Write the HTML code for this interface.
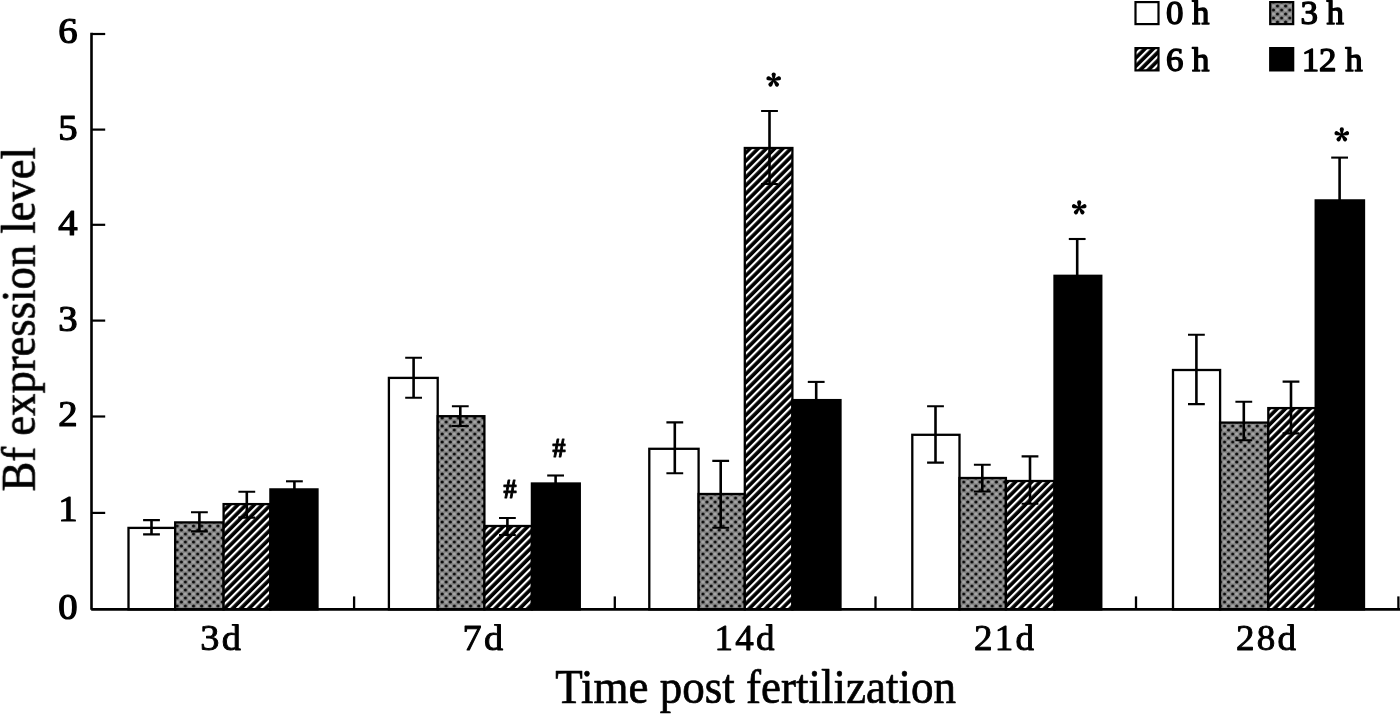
<!DOCTYPE html>
<html><head><meta charset="utf-8"><title>Bf expression level</title>
<style>html,body{margin:0;padding:0;background:#fff;}body{width:1400px;height:714px;overflow:hidden;}svg{display:block;}text{font-family:"Liberation Serif",serif;fill:#000;}</style>
</head><body>
<svg width="1400" height="714" viewBox="0 0 1400 714">
<defs>
<pattern id="hatch" width="5.8" height="5.8" patternUnits="userSpaceOnUse" patternTransform="translate(0 -1.2) rotate(-45)"><rect width="5.8" height="5.8" fill="#000"/><rect x="0" y="0" width="5.8" height="2.15" fill="#fff"/></pattern>
<pattern id="dots" width="8.15" height="8" patternUnits="userSpaceOnUse"><rect width="8.15" height="8" fill="#848484"/><ellipse cx="6.11" cy="2" rx="1.7" ry="1.6" fill="#a4a4a4"/><ellipse cx="2.04" cy="6" rx="1.7" ry="1.6" fill="#a4a4a4"/><ellipse cx="2.04" cy="2" rx="1.6" ry="1.5" fill="#0c0c0c"/><ellipse cx="6.11" cy="6" rx="1.6" ry="1.5" fill="#0c0c0c"/></pattern>
<filter id="soft" x="-2%" y="-2%" width="104%" height="104%"><feGaussianBlur stdDeviation="0.55"/></filter>
</defs>
<rect width="1400" height="714" fill="#fff"/>
<g filter="url(#soft)">
<g stroke="#000" stroke-width="2.3" stroke-linejoin="miter">
<rect x="128.5" y="527.9" width="46.7" height="81.5" fill="#fff"/>
<rect x="175.2" y="522.4" width="48.4" height="87.0" fill="url(#dots)"/>
<rect x="223.6" y="504.1" width="46.8" height="105.3" fill="url(#hatch)"/>
<rect x="270.4" y="489.4" width="47.1" height="120.0" fill="#000"/>
<rect x="388.9" y="377.9" width="48.8" height="231.5" fill="#fff"/>
<rect x="437.7" y="416.2" width="46.7" height="193.2" fill="url(#dots)"/>
<rect x="484.4" y="526.0" width="47.5" height="83.4" fill="url(#hatch)"/>
<rect x="531.9" y="483.5" width="47.9" height="125.9" fill="#000"/>
<rect x="649.3" y="448.8" width="49.3" height="160.6" fill="#fff"/>
<rect x="698.6" y="494.0" width="46.2" height="115.4" fill="url(#dots)"/>
<rect x="744.8" y="148.0" width="47.6" height="461.4" fill="url(#hatch)"/>
<rect x="792.4" y="400.1" width="48.1" height="209.3" fill="#000"/>
<rect x="912.3" y="434.8" width="47.2" height="174.6" fill="#fff"/>
<rect x="959.5" y="478.0" width="46.4" height="131.4" fill="url(#dots)"/>
<rect x="1005.9" y="481.0" width="48.6" height="128.4" fill="url(#hatch)"/>
<rect x="1054.5" y="275.8" width="46.8" height="333.6" fill="#000"/>
<rect x="1173.0" y="370.0" width="47.1" height="239.4" fill="#fff"/>
<rect x="1220.1" y="422.6" width="48.2" height="186.8" fill="url(#dots)"/>
<rect x="1268.3" y="408.1" width="47.4" height="201.3" fill="url(#hatch)"/>
<rect x="1315.7" y="200.4" width="48.3" height="409.0" fill="#000"/>
</g>
<path d="M151.5 520.1V534.4" stroke="#000" stroke-width="2.6" fill="none"/>
<path d="M143.1 520.1H159.9M143.1 534.4H159.9" stroke="#000" stroke-width="2.1" fill="none"/>
<path d="M199.4 512.2V531.4" stroke="#000" stroke-width="2.6" fill="none"/>
<path d="M191.0 512.2H207.8M191.0 531.4H207.8" stroke="#000" stroke-width="2.1" fill="none"/>
<path d="M246.8 491.8V517.6" stroke="#000" stroke-width="2.6" fill="none"/>
<path d="M238.4 491.8H255.2M238.4 517.6H255.2" stroke="#000" stroke-width="2.1" fill="none"/>
<path d="M294.4 481.3V489.4" stroke="#000" stroke-width="2.6" fill="none"/>
<path d="M286.0 481.3H302.8" stroke="#000" stroke-width="2.1" fill="none"/>
<path d="M413.6 357.7V397.8" stroke="#000" stroke-width="2.6" fill="none"/>
<path d="M405.2 357.7H422.0M405.2 397.8H422.0" stroke="#000" stroke-width="2.1" fill="none"/>
<path d="M460.3 406.2V426.0" stroke="#000" stroke-width="2.6" fill="none"/>
<path d="M451.9 406.2H468.7M451.9 426.0H468.7" stroke="#000" stroke-width="2.1" fill="none"/>
<path d="M507.4 518.0V535.0" stroke="#000" stroke-width="2.6" fill="none"/>
<path d="M499.0 518.0H515.8M499.0 535.0H515.8" stroke="#000" stroke-width="2.1" fill="none"/>
<path d="M555.6 475.5V483.5" stroke="#000" stroke-width="2.6" fill="none"/>
<path d="M547.2 475.5H564.0" stroke="#000" stroke-width="2.1" fill="none"/>
<path d="M674.8 422.4V473.2" stroke="#000" stroke-width="2.6" fill="none"/>
<path d="M666.4 422.4H683.2M666.4 473.2H683.2" stroke="#000" stroke-width="2.1" fill="none"/>
<path d="M720.7 460.9V527.8" stroke="#000" stroke-width="2.6" fill="none"/>
<path d="M712.3 460.9H729.1M712.3 527.8H729.1" stroke="#000" stroke-width="2.1" fill="none"/>
<path d="M769.5 111.0V184.0" stroke="#000" stroke-width="2.6" fill="none"/>
<path d="M761.1 111.0H777.9M761.1 184.0H777.9" stroke="#000" stroke-width="2.1" fill="none"/>
<path d="M816.2 381.9V400.1" stroke="#000" stroke-width="2.6" fill="none"/>
<path d="M807.8 381.9H824.6" stroke="#000" stroke-width="2.1" fill="none"/>
<path d="M935.5 406.2V462.6" stroke="#000" stroke-width="2.6" fill="none"/>
<path d="M927.1 406.2H943.9M927.1 462.6H943.9" stroke="#000" stroke-width="2.1" fill="none"/>
<path d="M982.3 464.7V491.5" stroke="#000" stroke-width="2.6" fill="none"/>
<path d="M973.9 464.7H990.7M973.9 491.5H990.7" stroke="#000" stroke-width="2.1" fill="none"/>
<path d="M1030.0 456.4V503.8" stroke="#000" stroke-width="2.6" fill="none"/>
<path d="M1021.6 456.4H1038.4M1021.6 503.8H1038.4" stroke="#000" stroke-width="2.1" fill="none"/>
<path d="M1077.2 239.0V275.8" stroke="#000" stroke-width="2.6" fill="none"/>
<path d="M1068.8 239.0H1085.6" stroke="#000" stroke-width="2.1" fill="none"/>
<path d="M1196.4 334.8V404.1" stroke="#000" stroke-width="2.6" fill="none"/>
<path d="M1188.0 334.8H1204.8M1188.0 404.1H1204.8" stroke="#000" stroke-width="2.1" fill="none"/>
<path d="M1243.8 401.7V440.2" stroke="#000" stroke-width="2.6" fill="none"/>
<path d="M1235.4 401.7H1252.2M1235.4 440.2H1252.2" stroke="#000" stroke-width="2.1" fill="none"/>
<path d="M1291.0 381.6V433.4" stroke="#000" stroke-width="2.6" fill="none"/>
<path d="M1282.6 381.6H1299.4M1282.6 433.4H1299.4" stroke="#000" stroke-width="2.1" fill="none"/>
<path d="M1339.6 157.6V200.4" stroke="#000" stroke-width="2.6" fill="none"/>
<path d="M1331.2 157.6H1348.0" stroke="#000" stroke-width="2.1" fill="none"/>
<g stroke="#000" fill="none">
<path d="M91.5 32.8V609.7" stroke-width="2.6"/>
<path d="M91.2 609.4H1400" stroke-width="2.6"/>
<path d="M91.5 512.9H105.2" stroke-width="2.2"/>
<path d="M91.5 416.5H105.2" stroke-width="2.2"/>
<path d="M91.5 320.6H105.2" stroke-width="2.2"/>
<path d="M91.5 224.8H105.2" stroke-width="2.2"/>
<path d="M91.5 129.6H105.2" stroke-width="2.2"/>
<path d="M91.5 34.0H105.2" stroke-width="2.2"/>
<path d="M354.1 596.4V609.4" stroke-width="2.3"/>
<path d="M614.8 596.4V609.4" stroke-width="2.3"/>
<path d="M875.5 596.4V609.4" stroke-width="2.3"/>
<path d="M1136.0 596.4V609.4" stroke-width="2.3"/>
<path d="M1398.4 596.4V609.4" stroke-width="2.3"/>
</g>
<text transform="translate(77.60 618.60) scale(1.090 1)" font-size="35.5" text-anchor="end" stroke="#000" stroke-width="1.20" stroke-linejoin="round">0</text>
<text transform="translate(77.60 521.20) scale(1.090 1)" font-size="35.5" text-anchor="end" stroke="#000" stroke-width="1.20" stroke-linejoin="round">1</text>
<text transform="translate(77.60 425.80) scale(1.090 1)" font-size="35.5" text-anchor="end" stroke="#000" stroke-width="1.20" stroke-linejoin="round">2</text>
<text transform="translate(77.60 330.70) scale(1.090 1)" font-size="35.5" text-anchor="end" stroke="#000" stroke-width="1.20" stroke-linejoin="round">3</text>
<text transform="translate(77.60 234.60) scale(1.090 1)" font-size="35.5" text-anchor="end" stroke="#000" stroke-width="1.20" stroke-linejoin="round">4</text>
<text transform="translate(77.60 139.70) scale(1.090 1)" font-size="35.5" text-anchor="end" stroke="#000" stroke-width="1.20" stroke-linejoin="round">5</text>
<text transform="translate(77.60 43.20) scale(1.090 1)" font-size="35.5" text-anchor="end" stroke="#000" stroke-width="1.20" stroke-linejoin="round">6</text>
<text transform="translate(221.80 649.60) scale(1.070 1)" font-size="35.8" text-anchor="middle" stroke="#000" stroke-width="0.90" stroke-linejoin="round" letter-spacing="2.20">3d</text>
<text transform="translate(484.10 649.60) scale(1.070 1)" font-size="35.8" text-anchor="middle" stroke="#000" stroke-width="0.90" stroke-linejoin="round" letter-spacing="2.20">7d</text>
<text transform="translate(745.70 649.60) scale(1.035 1)" font-size="35.8" text-anchor="middle" stroke="#000" stroke-width="0.90" stroke-linejoin="round" letter-spacing="2.20">14d</text>
<text transform="translate(1005.10 649.60) scale(1.035 1)" font-size="35.8" text-anchor="middle" stroke="#000" stroke-width="0.90" stroke-linejoin="round" letter-spacing="2.20">21d</text>
<text transform="translate(1267.10 649.60) scale(1.035 1)" font-size="35.8" text-anchor="middle" stroke="#000" stroke-width="0.90" stroke-linejoin="round" letter-spacing="2.20">28d</text>
<text transform="translate(755.60 702.60) scale(0.938 1)" font-size="48" text-anchor="middle" stroke="#000" stroke-width="0.70" stroke-linejoin="round">Time post fertilization</text>
<text transform="translate(34.80 319.20) rotate(-90) scale(0.939 1)" font-size="47.5" text-anchor="middle" stroke="#000" stroke-width="0.70" stroke-linejoin="round">Bf expression level</text>
<text transform="translate(510.10 497.80) scale(0.930 1)" font-size="28" text-anchor="middle" stroke="#000" stroke-width="1.00" stroke-linejoin="round" font-weight="bold">#</text>
<text transform="translate(559.10 457.10) scale(0.930 1)" font-size="28" text-anchor="middle" stroke="#000" stroke-width="1.00" stroke-linejoin="round" font-weight="bold">#</text>
<g fill="#000"><circle cx="773.70" cy="80.00" r="1.5"/><path transform="translate(773.70 80.00) rotate(-90.0)" d="M0 -0.75L5.50 -2.10A2.10 2.10 0 0 1 5.50 2.10L0 0.75Z"/><path transform="translate(773.70 80.00) rotate(-18.0)" d="M0 -0.75L5.50 -2.10A2.10 2.10 0 0 1 5.50 2.10L0 0.75Z"/><path transform="translate(773.70 80.00) rotate(54.0)" d="M0 -0.75L5.50 -2.10A2.10 2.10 0 0 1 5.50 2.10L0 0.75Z"/><path transform="translate(773.70 80.00) rotate(-162.0)" d="M0 -0.75L5.50 -2.10A2.10 2.10 0 0 1 5.50 2.10L0 0.75Z"/><path transform="translate(773.70 80.00) rotate(-234.0)" d="M0 -0.75L5.50 -2.10A2.10 2.10 0 0 1 5.50 2.10L0 0.75Z"/></g>
<g fill="#000"><circle cx="1079.20" cy="207.90" r="1.5"/><path transform="translate(1079.20 207.90) rotate(-90.0)" d="M0 -0.75L5.50 -2.10A2.10 2.10 0 0 1 5.50 2.10L0 0.75Z"/><path transform="translate(1079.20 207.90) rotate(-18.0)" d="M0 -0.75L5.50 -2.10A2.10 2.10 0 0 1 5.50 2.10L0 0.75Z"/><path transform="translate(1079.20 207.90) rotate(54.0)" d="M0 -0.75L5.50 -2.10A2.10 2.10 0 0 1 5.50 2.10L0 0.75Z"/><path transform="translate(1079.20 207.90) rotate(-162.0)" d="M0 -0.75L5.50 -2.10A2.10 2.10 0 0 1 5.50 2.10L0 0.75Z"/><path transform="translate(1079.20 207.90) rotate(-234.0)" d="M0 -0.75L5.50 -2.10A2.10 2.10 0 0 1 5.50 2.10L0 0.75Z"/></g>
<g fill="#000"><circle cx="1341.80" cy="134.90" r="1.5"/><path transform="translate(1341.80 134.90) rotate(-90.0)" d="M0 -0.75L5.50 -2.10A2.10 2.10 0 0 1 5.50 2.10L0 0.75Z"/><path transform="translate(1341.80 134.90) rotate(-18.0)" d="M0 -0.75L5.50 -2.10A2.10 2.10 0 0 1 5.50 2.10L0 0.75Z"/><path transform="translate(1341.80 134.90) rotate(54.0)" d="M0 -0.75L5.50 -2.10A2.10 2.10 0 0 1 5.50 2.10L0 0.75Z"/><path transform="translate(1341.80 134.90) rotate(-162.0)" d="M0 -0.75L5.50 -2.10A2.10 2.10 0 0 1 5.50 2.10L0 0.75Z"/><path transform="translate(1341.80 134.90) rotate(-234.0)" d="M0 -0.75L5.50 -2.10A2.10 2.10 0 0 1 5.50 2.10L0 0.75Z"/></g>
<g stroke="#000" stroke-width="2.2">
<rect x="1135.5" y="2.1" width="23" height="22" fill="#fff"/>
<rect x="1270.2" y="2.1" width="23" height="22" fill="url(#dots)"/>
<rect x="1135.5" y="48.1" width="23" height="22.3" fill="url(#hatch)"/>
<rect x="1270.2" y="48.1" width="23" height="22.3" fill="#000"/>
</g>
<text transform="translate(1165.90 24.20) scale(1.010 1)" font-size="34.5" text-anchor="start" stroke="#000" stroke-width="1.40" stroke-linejoin="round">0 h</text>
<text transform="translate(1300.50 24.20) scale(1.010 1)" font-size="34.5" text-anchor="start" stroke="#000" stroke-width="1.40" stroke-linejoin="round">3 h</text>
<text transform="translate(1165.90 70.60) scale(1.010 1)" font-size="34.5" text-anchor="start" stroke="#000" stroke-width="1.40" stroke-linejoin="round">6 h</text>
<text transform="translate(1301.70 70.60) scale(1.010 1)" font-size="34.5" text-anchor="start" stroke="#000" stroke-width="1.40" stroke-linejoin="round">12 h</text>
</g>
</svg>
</body></html>
